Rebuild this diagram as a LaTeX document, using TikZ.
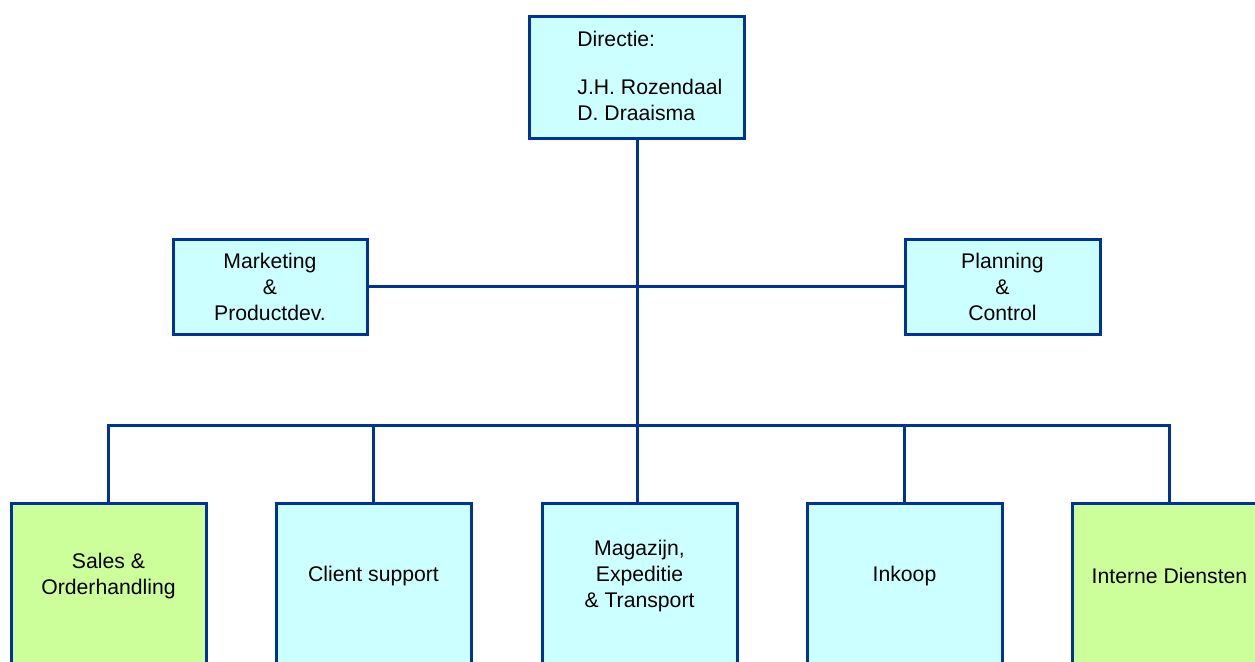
\documentclass[tikz,border=0pt]{standalone}
\usepackage{fontspec}
\setmainfont{Liberation Sans}
\usetikzlibrary{positioning,calc}

\definecolor{orgline}{RGB}{0,51,153}
\definecolor{orgcyan}{RGB}{204,255,255}
\definecolor{orggreen}{RGB}{204,255,153}

\begin{document}
\begin{tikzpicture}[x=0.5pt,y=-0.5pt,font=\fontsize{10.6}{13}\selectfont,
  box/.style={draw=orgline,line width=1.5pt,fill=orgcyan,align=center,inner sep=0pt},
  dept/.style={box,minimum width=97.5pt,minimum height=100pt,anchor=north},
  lab/.style={align=center,inner sep=0pt},
  conn/.style={draw=orgline,line width=1.5pt}]

\useasboundingbox (0,0) rectangle (1255,661);
\clip (0,0) rectangle (1255,661);

% ---- top: directie ----
\node[box,minimum width=107.5pt,minimum height=61pt] (dir) at (637,77) {};
\node[lab,align=left,anchor=north west] (dirtext) at (577,30.5)
  {Directie:\\[11pt]J.H. Rozendaal\\D. Draaisma};

% ---- staff ----
\node[box,minimum width=97pt,minimum height=47.5pt] (mark) at (270,286.5)
  {Marketing\\\&\\Productdev.};
\node[box,minimum width=97.5pt,minimum height=47.5pt] (plan) at (1002.5,286.5)
  {Planning\\\&\\Control};

% ---- departments (run past the lower edge) ----
\node[dept,fill=orggreen] (sales) at (108.5,502) {};
\node[dept] (client) at (373.5,502) {};
\node[dept] (mag) at (639.5,502) {};
\node[dept] (ink) at (904.5,502) {};
\node[dept,fill=orggreen] (intern) at (1169.5,502) {};

\node[lab] (salestext) at ($(sales.north)+(0,74)$) {Sales \&\\Orderhandling};
\node[lab] (clienttext) at ($(client.north)+(0,74)$) {Client support};
\node[lab] (magtext) at ($(mag.north)+(0,74)$) {Magazijn,\\Expeditie\\\& Transport};
\node[lab] (inktext) at ($(ink.north)+(0,74)$) {Inkoop};
\node[lab] (interntext) at ($(intern.north)+(0,74)$) {Interne Diensten};

% ---- connections ----
\coordinate (bus) at (637,425);
\draw[conn] (dir.south) -- (dir.south |- mag.north);
\draw[conn] (mark.east) -- (plan.west);
\draw[conn] (sales.north) |- (bus) -| (intern.north);
\draw[conn] (client.north) -- (client.north |- bus);
\draw[conn] (ink.north) -- (ink.north |- bus);
\end{tikzpicture}
\end{document}
